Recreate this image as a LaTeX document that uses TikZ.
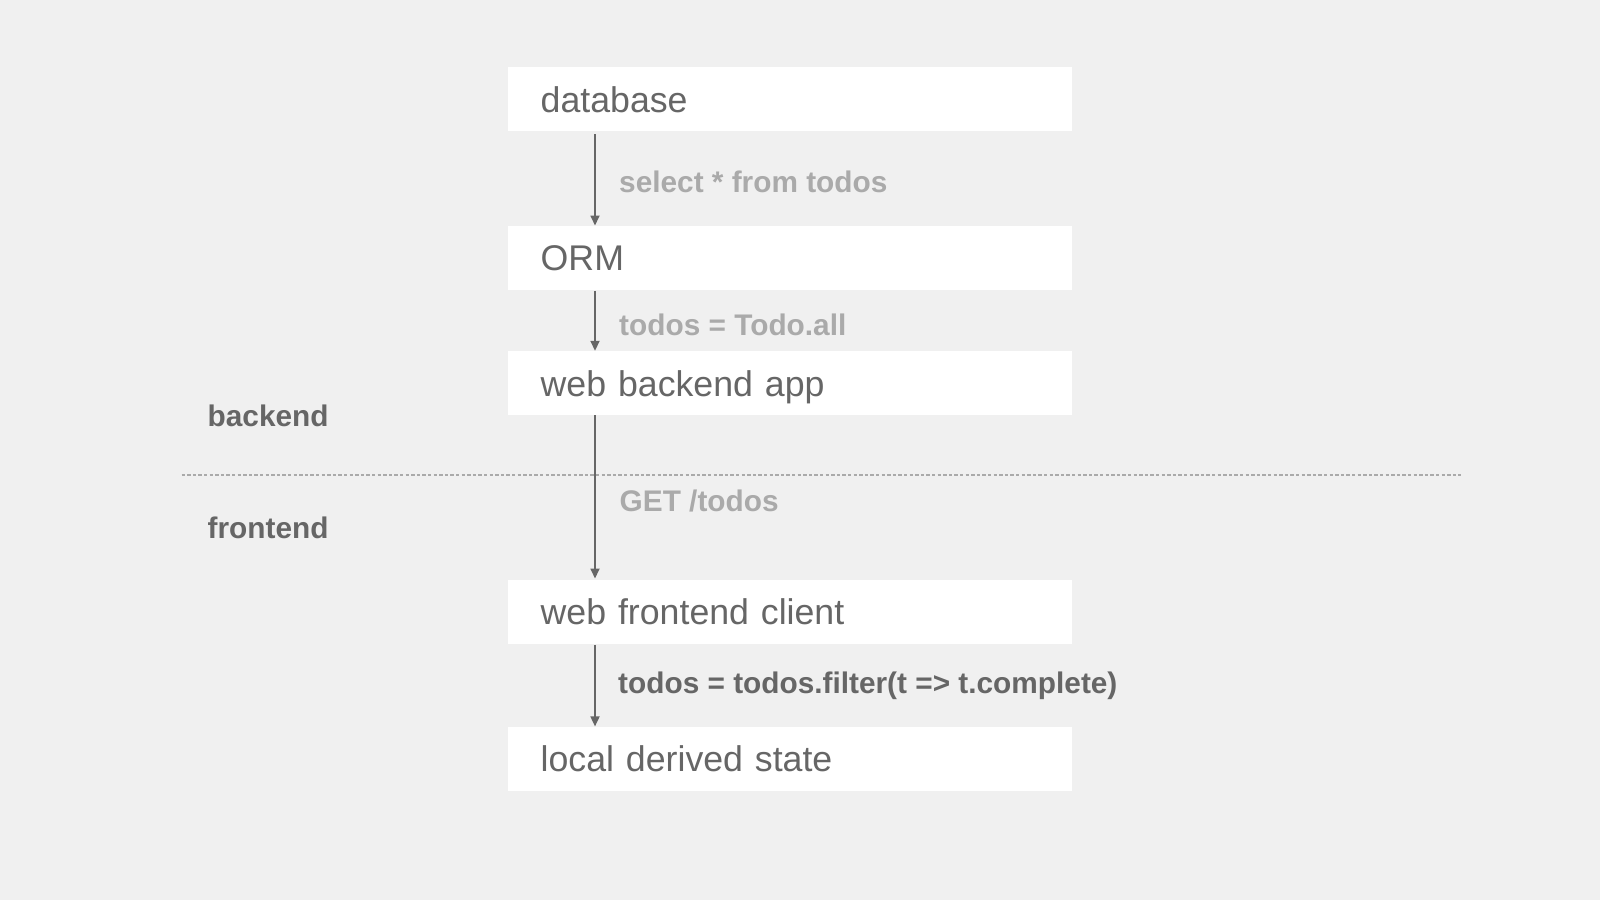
\documentclass[tikz,border=0pt]{standalone}
\usepackage{fontspec}
\usetikzlibrary{arrows.meta,calc}
\newfontfamily\boxfont{Liberation Sans}
\newfontfamily\labfont{Liberation Sans Bold}
\definecolor{bgc}{HTML}{F0F0F0}
\definecolor{darkt}{HTML}{666666}
\definecolor{lightt}{HTML}{AAAAAA}
\definecolor{dashc}{HTML}{AAAAAA}
\tikzset{
  layer/.style={fill=white, draw=none, anchor=west, minimum width=563.5pt, minimum height=64pt,
    inner xsep=32.5pt, inner ysep=0pt, text width=498.5pt, align=left,
    text height=26.5pt, text depth=0pt, text=darkt, font=\boxfont\fontsize{35.7}{40}\selectfont},
  lightlab/.style={anchor=base west, inner sep=0pt, text=lightt, font=\labfont\fontsize{29.8}{34}\selectfont},
  darklab/.style={anchor=base west, inner sep=0pt, text=darkt, font=\labfont\fontsize{29.8}{34}\selectfont},
  arr/.style={draw=darkt, line width=1.7pt, -{Triangle[width=9pt,length=10pt]}},
  sep/.style={draw=dashc, line width=1.2pt, dash pattern=on 3.3pt off 2.3pt}
}
\begin{document}
\begin{tikzpicture}[x=1pt,y=-1pt]
\fill[bgc] (0,0) rectangle (1600,900);
\useasboundingbox (0,0) rectangle (1600,900);
\coordinate (ax) at (595,0);
\node[layer] (db) at (508,99) {database};
\node[layer] (orm) at (508,257.7) {ORM};
\node[layer] (be) at (508,383) {web backend app};
\node[layer] (fe) at (508,611.7) {web frontend client};
\node[layer] (lds) at (508,758.6) {local derived state};
\coordinate (sl) at (181.6,475);
\coordinate (sr) at (1461,475);
\draw[sep] (sl) -- (sr);
\draw[arr] ($(db.south -| ax)+(0,3)$) -- (orm.north -| ax);
\draw[arr] ($(orm.south -| ax)+(0,1)$) -- (be.north -| ax);
\draw[arr] (be.south -| ax) -- ($(fe.north -| ax)+(0,-1)$);
\draw[arr] ($(fe.south -| ax)+(0,1)$) -- (lds.north -| ax);
\node[lightlab] (l1) at (619,192) {select * from todos};
\node[lightlab] (l2) at (619,335) {todos = Todo.all};
\node[lightlab] (l3) at (619.5,511.7) {GET /todos};
\node[darklab] (l4) at (618,693.5) {todos = todos.filter(t => t.complete)};
\node[darklab] (bk) at (207.5,426.7) {backend};
\node[darklab] (fr) at (207.5,538.3) {frontend};
\end{tikzpicture}
\end{document}
